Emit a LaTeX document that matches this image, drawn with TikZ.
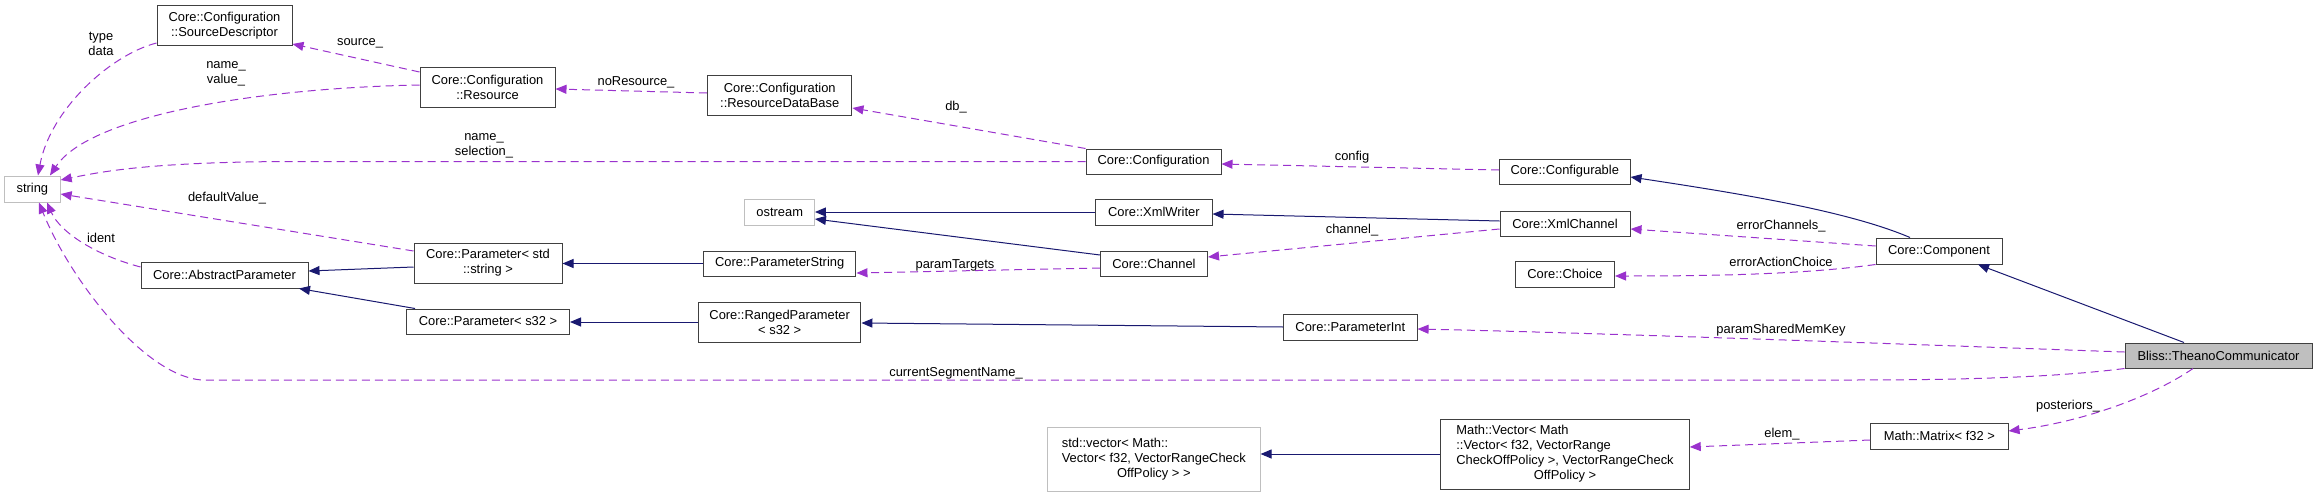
\documentclass[tikz,border=0pt]{standalone}
\usepackage{fontspec}
\setmainfont{Liberation Sans}
\usetikzlibrary{arrows.meta}
\definecolor{usecol}{HTML}{9A32CD}
\definecolor{inhcol}{HTML}{191970}
\definecolor{extgray}{HTML}{BFBFBF}
\definecolor{boxline}{HTML}{404040}
\newcommand{\lastc}[1]{\multicolumn{1}{@{}c@{}}{#1}}
\begin{document}
\begin{tikzpicture}[x=1pt,y=-1pt,
  font=\fontsize{12.9}{15}\selectfont,
  cls/.style={draw=boxline, line width=1pt, fill=white, inner sep=0pt, align=center},
  ext/.style={cls, draw=extgray},
  cur/.style={cls, fill=extgray},
  uses/.style={draw=usecol, line width=1pt, dash pattern=on 8pt off 5pt, -{Triangle[length=11pt,width=9pt]}},
  inh/.style={draw=inhcol, line width=1pt, -{Triangle[length=11pt,width=9pt]}},
  lbl/.style={align=center, inner sep=0pt}]
\useasboundingbox (0,0) rectangle (2317,495);

% nodes
\node[ext, minimum width=55.5, minimum height=26] (str) at (32.4,189) {string};
\node[cls, minimum width=135, minimum height=40] (srcd) at (224.5,26) {Core::Configuration\\::SourceDescriptor};
\node[cls, minimum width=135, minimum height=39] (res) at (487.5,87.5) {Core::Configuration\\::Resource};
\node[cls, minimum width=144.5, minimum height=40] (rdb) at (779.7,95) {Core::Configuration\\::ResourceDataBase};
\node[cls, minimum width=135, minimum height=25] (conf) at (1153.5,161.5) {Core::Configuration};
\node[cls, minimum width=130.5, minimum height=25] (cfgb) at (1564.8,171.5) {Core::Configurable};
\node[ext, minimum width=69.5, minimum height=26] (ostr) at (779.7,212) {ostream};
\node[cls, minimum width=116.5, minimum height=26] (xmlw) at (1153.8,212) {Core::XmlWriter};
\node[cls, minimum width=130, minimum height=25] (xmlc) at (1565,223.5) {Core::XmlChannel};
\node[cls, minimum width=126, minimum height=26] (comp) at (1939,251) {Core::Component};
\node[cls, minimum width=99, minimum height=26] (choice) at (1565,274) {Core::Choice};
\node[cls, minimum width=107, minimum height=25] (chan) at (1154,263.5) {Core::Channel};
\node[cls, minimum width=152.5, minimum height=25] (pstring) at (779.7,263.5) {Core::ParameterString};
\node[cls, minimum width=148, minimum height=40] (parstr) at (488,263) {Core::Parameter< std\\::string >};
\node[cls, minimum width=167, minimum height=26] (abspar) at (224.5,275) {Core::AbstractParameter};
\node[cls, minimum width=163, minimum height=25] (pars32) at (488,321.5) {Core::Parameter< s32 >};
\node[cls, minimum width=162.5, minimum height=40] (ranged) at (779.7,322) {Core::RangedParameter\\< s32 >};
\node[cls, minimum width=133.5, minimum height=26] (pint) at (1350.3,327) {Core::ParameterInt};
\node[cur, minimum width=187, minimum height=25] (tc) at (2218.5,355.5) {Bliss::TheanoCommunicator};
\node[ext, minimum width=212.5, minimum height=64] (stdvec) at (1153.8,459) {\begin{tabular}{@{}l@{}}std::vector< Math::\\Vector< f32, VectorRangeCheck\\\lastc{OffPolicy > >}\end{tabular}};
\node[cls, minimum width=248.5, minimum height=70] (mvec) at (1565,454) {\begin{tabular}{@{}l@{}}Math::Vector< Math\\::Vector< f32, VectorRange\\CheckOffPolicy >, VectorRangeCheck\\\lastc{OffPolicy >}\end{tabular}};
\node[cls, minimum width=137.5, minimum height=26] (matrix) at (1939.3,436) {Math::Matrix< f32 >};

% usage (dashed) edges
\draw[uses] (srcd.west |- 0,43) .. controls (110,55) and (50,110) .. (str.north -| 38,0);
\node[lbl] (l1) at (101,44) {type\\data};
\draw[uses] (res.west |- 0,72) -- (srcd.east |- 0,44);
\node[lbl] (l2) at (360,43) {source\_};
\draw[uses] (res.west |- 0,85) .. controls (260,88) and (90,115) .. (str.north -| 50,0);
\node[lbl] (l3) at (226,74) {name\_\\value\_};
\draw[uses] (rdb.west |- 0,93) -- (res.east |- 0,89);
\node[lbl] (l4) at (636,82) {noResource\_};
\draw[uses] (conf.north west) -- (rdb.east |- 0,108);
\node[lbl] (l5) at (956,107) {db\_};
\draw[uses] (conf.west) -- (300,161.5) .. controls (150,161.5) and (100,172) .. (str.east |- 0,180);
\node[lbl] (l6) at (484,146) {name\_\\selection\_};
\draw[uses] (cfgb.west |- 0,170) -- (conf.east |- 0,164);
\node[lbl] (l7) at (1352,157) {config};
\draw[uses] (xmlc.west |- 0,229) -- (chan.east |- 0,257);
\node[lbl] (l8) at (1352,230) {channel\_};
\draw[uses] (comp.west |- 0,246) -- (xmlc.east |- 0,229);
\node[lbl] (l9) at (1781,226) {errorChannels\_};
\draw[uses] (comp.south west) .. controls (1800,275) and (1700,276) .. (choice.east |- 0,276);
\node[lbl] (l10) at (1781,262) {errorActionChoice};
\draw[uses] (chan.west |- 0,268) -- (pstring.east |- 0,273);
\node[lbl] (l11) at (955,265) {paramTargets};
\draw[uses] (parstr.west |- 0,251) -- (str.east |- 0,194);
\node[lbl] (l12) at (227,198) {defaultValue\_};
\draw[uses] (abspar.west |- 0,267) .. controls (95,255) and (60,232) .. (str.south -| 47,0);
\node[lbl] (l13) at (101,238) {ident};
\draw[uses] (tc.west |- 0,352) .. controls (1900,344) and (1600,333) .. (pint.east |- 0,329);
\node[lbl] (l14) at (1781,330) {paramSharedMemKey};
\draw[uses] (tc.south west) .. controls (2050,378) and (1950,380) .. (1850,380) -- (210,380) .. controls (150,385) and (70,280) .. (str.south -| 39,0);
\node[lbl] (l15) at (956,373) {currentSegmentName\_};
\draw[uses] (tc.south -| 2193,0) .. controls (2150,398) and (2080,422) .. (matrix.east |- 0,431);
\node[lbl] (l16) at (2068,406) {posteriors\_};
\draw[uses] (matrix.west |- 0,440) -- (mvec.east |- 0,447);
\node[lbl] (l17) at (1782,434) {elem\_};

% inheritance (solid) edges
\draw[inh] (comp.north -| 1910,0) .. controls (1850,212) and (1750,195) .. (cfgb.east |- 0,177);
\draw[inh] (xmlc.west |- 0,221) -- (xmlw.east |- 0,214);
\draw[inh] (xmlw.west) -- (ostr.east);
\draw[inh] (chan.west |- 0,255) -- (ostr.east |- 0,219);
\draw[inh] (pstring.west) -- (parstr.east |- 0,263.5);
\draw[inh] (parstr.west |- 0,267) -- (abspar.east |- 0,271);
\draw[inh] (pars32.north -| 415,0) -- (abspar.south -| 299,0);
\draw[inh] (ranged.west) -- (pars32.east |- 0,322);
\draw[inh] (pint.west) -- (ranged.east |- 0,323);
\draw[inh] (tc.north -| 2184,0) -- (comp.south -| 1978,0);
\draw[inh] (mvec.west) -- (stdvec.east |- 0,454);
\end{tikzpicture}
\end{document}
